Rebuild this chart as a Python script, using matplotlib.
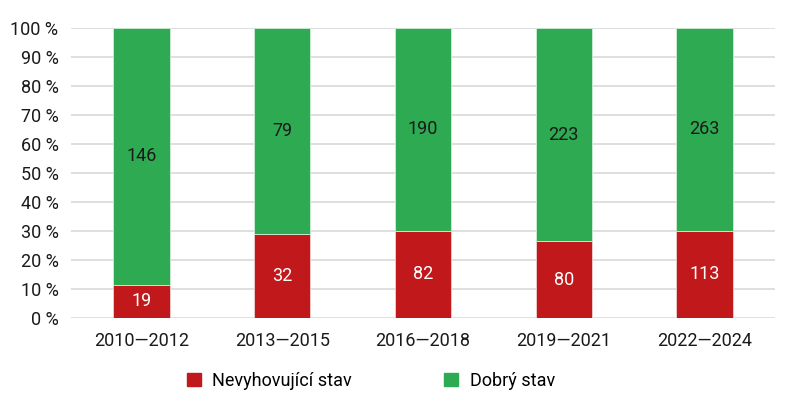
import numpy as np
import matplotlib.pyplot as plt
from matplotlib.patches import Patch

obdobi = ['2010—2012', '2013—2015', '2016—2018', '2019—2021', '2022—2024']
nevyhovujici = np.array([19, 32, 82, 80, 113])
dobry = np.array([146, 79, 190, 223, 263])

cervena = '#C1181B'
zelena = '#2EAA52'

plt.rcParams['font.family'] = ['Roboto', 'DejaVu Sans']

celkem = nevyhovujici + dobry
podil_n = nevyhovujici / celkem * 100
podil_d = dobry / celkem * 100

fig = plt.figure(figsize=(8, 4.08), dpi=100)
ax = fig.add_axes([71 / 800, 1 - 318 / 408, 704 / 800, 290 / 408])

x = np.arange(len(obdobi))
ax.bar(x, podil_n, width=0.4, color=cervena, edgecolor='#f0d0d0', linewidth=0.6, zorder=3)
ax.bar(x, podil_d, width=0.4, bottom=podil_n, color=zelena, edgecolor='#d0ecd8', linewidth=0.6, zorder=3)

for i in range(len(obdobi)):
    ax.text(x[i], podil_n[i] / 2, str(nevyhovujici[i]), ha='center', va='center',
            color='white', fontsize=13)
    ax.text(x[i], podil_n[i] + podil_d[i] / 2, str(dobry[i]), ha='center', va='center',
            color='#1a1a1a', fontsize=13)

ax.set_xlim(-0.5, len(obdobi) - 0.5)
ax.set_ylim(0, 100)
ax.set_yticks(np.arange(0, 101, 10))
ax.set_yticklabels([f'{v} %' for v in range(0, 101, 10)])
ax.set_xticks(x)
ax.set_xticklabels(obdobi)
ax.tick_params(axis='both', length=0, labelsize=13, colors='#1a1a1a')
ax.tick_params(axis='y', pad=9)
ax.tick_params(axis='x', pad=10)
ax.grid(axis='y', color='#d9d9d9', linewidth=1.2, zorder=0)
for s in ax.spines.values():
    s.set_visible(False)

handles = [Patch(color=cervena, label='Nevyhovující stav'),
           Patch(color=zelena, label='Dobrý stav')]
fig.legend(handles=handles, loc='center', bbox_to_anchor=(371 / 800, 1 - 381 / 408),
           ncol=2, frameon=False, fontsize=13, handlelength=0.75, handleheight=0.75,
           columnspacing=5.1, handletextpad=0.65)

fig.savefig('out.png', dpi=100)
